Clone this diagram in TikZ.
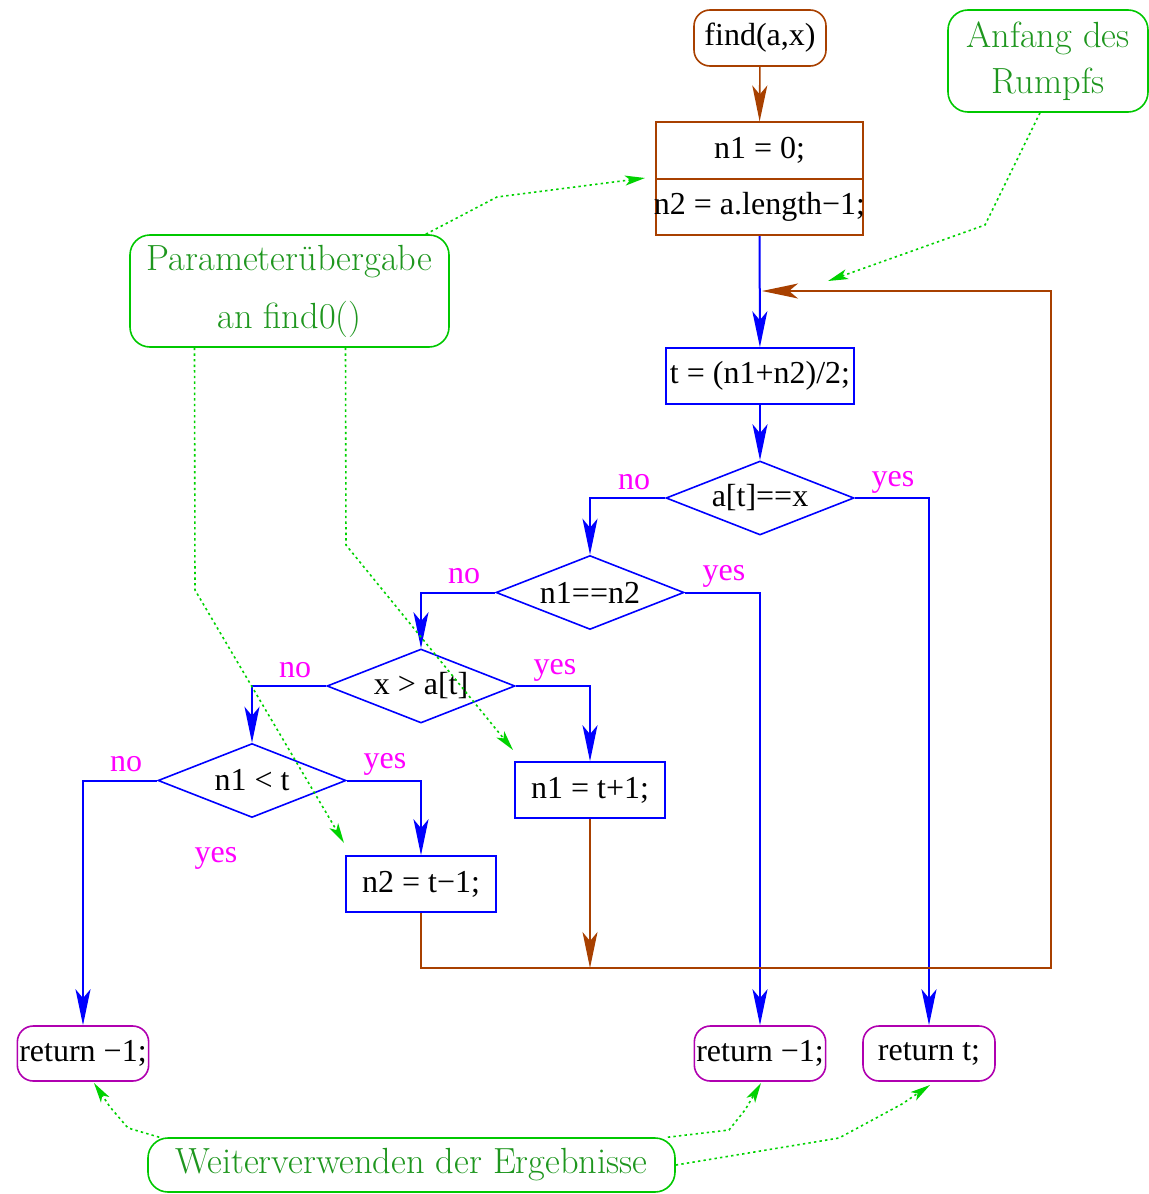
\documentclass[tikz,border=0pt]{standalone}
\usepackage{fontspec}
\setmainfont{Liberation Serif}
\newfontfamily\notefont{Latin Modern Roman}
\usetikzlibrary{shapes.geometric,arrows.meta}

\definecolor{flowbrown}{RGB}{168,64,0}
\definecolor{retpurple}{RGB}{176,0,176}
\definecolor{notegreen}{RGB}{0,200,0}
\definecolor{notetext}{RGB}{30,150,30}
\definecolor{hintgreen}{RGB}{0,210,0}
\definecolor{answercol}{RGB}{255,0,255}

\tikzset{
  base/.style={font=\fontsize{16}{19}\selectfont, inner sep=1pt},
  startbox/.style={base, draw=flowbrown, line width=0.8pt, rounded corners=8pt, minimum width=66pt, minimum height=28pt},
  initbox/.style={base, draw=flowbrown, line width=0.8pt, inner xsep=-1.2pt, inner ysep=0pt, minimum width=103.5pt, minimum height=28.25pt},
  stmt/.style={base, draw=blue, line width=0.8pt, minimum height=28pt},
  test/.style={base, draw=blue, line width=0.8pt, diamond, aspect=2.5, inner sep=0pt, minimum width=94pt, minimum height=37pt},
  retbox/.style={base, draw=retpurple, line width=0.8pt, rounded corners=8pt, minimum width=65pt, minimum height=27.5pt},
  note/.style={notefont, text=notetext, draw=notegreen, line width=0.8pt, rounded corners=10pt, align=center},
  notefont/.style={font=\notefont\fontsize{18.2}{29}\selectfont},
  answer/.style={base, text=answercol},
  flow/.style={blue, line width=1pt, -{Stealth[length=18pt,width=7.5pt,inset=4.5pt]}},
  back/.style={flowbrown, line width=0.8pt, -{Stealth[length=18pt,width=7.5pt,inset=4.5pt]}},
  hint/.style={hintgreen, line width=0.8pt, dash pattern=on 1.2pt off 1.6pt, -{Stealth[length=10pt,width=5pt,inset=2.5pt]}}
}

\begin{document}
\begin{tikzpicture}[x=0.5pt, y=-0.5pt]
  \useasboundingbox (0,0) rectangle (1149,1194);

  % flow chart
  \node[startbox] (find) at (760,38) {find(a,x)};
  \node[initbox] (init1) at (759.5,150.5) {n1 = 0;};
  \node[initbox] (init2) at (759.5,207) {n2 = a.length−1;};
  \node[stmt, minimum width=94pt] (calc) at (760,376) {t = (n1+n2)/2;};
  \node[test] (dAx) at (760,498) {a[t]==x};
  \node[test] (dN) at (590,592.5) {n1==n2};
  \node[test] (dG) at (421,686) {x > a[t]};
  \node[test] (dL) at (252,780.5) {n1 < t};
  \node[stmt, minimum width=75pt] (inc) at (590,790) {n1 = t+1;};
  \node[stmt, minimum width=75pt] (dec) at (421,884) {n2 = t−1;};
  \node[retbox] (retL) at (83,1053.5) {return −1;};
  \node[retbox] (retM) at (760,1053.5) {return −1;};
  \node[retbox, minimum width=66pt] (retT) at (929,1053.5) {return t;};

  % answers
  \node[answer] (noA) at (634,482) {no};
  \node[answer] (yesA) at (893,482) {yes};
  \node[answer] (noN) at (464,576) {no};
  \node[answer] (yesN) at (724,576) {yes};
  \node[answer] (noG) at (295,670) {no};
  \node[answer] (yesG) at (555,670) {yes};
  \node[answer] (noL) at (126,764) {no};
  \node[answer] (yesL) at (385,764) {yes};
  \node[answer] (yesX) at (216,858) {yes};

  % connectors
  \draw[back] (find) -- (init1);
  \draw[flow] (init2) -- (calc);
  \draw[flow] (calc) -- (dAx);
  \draw[flow] (dAx.west) -| (dN.north);
  \draw[flow] (dAx.east) -| (retT.north);
  \draw[flow] (dN.west) -| (dG.north);
  \draw[flow] (dN.east) -| (retM.north);
  \draw[flow] (dG.west) -| (dL.north);
  \draw[flow] (dG.east) -| (inc.north);
  \draw[flow] (dL.west) -| (retL.north);
  \draw[flow] (dL.east) -| (dec.north);

  \coordinate (loopcorner) at (1051,968);
  \coordinate (loopentry) at (762,291);
  \draw[back] (dec.south) |- (loopcorner) |- (loopentry);
  \draw[back] (inc.south) -- (inc.south |- loopcorner);

  % notes
  \node[note, minimum width=159.5pt, minimum height=56pt] (param) at (289.5,291) {Parameterübergabe\\an find0()};
  \node[note, minimum width=100pt, minimum height=51pt, font=\notefont\fontsize{18.2}{23}\selectfont] (rumpf) at (1048,61) {Anfang des\\Rumpfs};
  \node[note, minimum width=263.5pt, minimum height=27pt] (weiter) at (411.5,1165) {Weiterverwenden der Ergebnisse};

  \coordinate (initTip) at (645,178);
  \coordinate (incTip) at (513,750);
  \coordinate (decTip) at (344,843);
  \coordinate (loopTip) at (828,281);
  \coordinate (retLTip) at (94,1083);
  \coordinate (retMTip) at (761,1083);
  \coordinate (retTTip) at (930,1085);

  \draw[hint] ([xshift=-12pt]param.north east) -- (497,197) -- (initTip);
  \draw[hint] ([xshift=-47.5pt]param.south) -- (195,590) -- (decTip);
  \draw[hint] ([xshift=28pt]param.south) -- (346,545) -- (incTip);
  \draw[hint] ([xshift=-4pt]rumpf.south) -- (985,225) -- (loopTip);
  \draw[hint] ([xshift=6pt]weiter.north west) -- (128,1128) -- (110,1107) -- (retLTip);
  \draw[hint] ([xshift=-4pt]weiter.north east) -- (729,1130) -- (745,1110) -- (retMTip);
  \draw[hint] (weiter.east) -- (839,1138) -- (902,1104) -- (retTTip);
\end{tikzpicture}
\end{document}
